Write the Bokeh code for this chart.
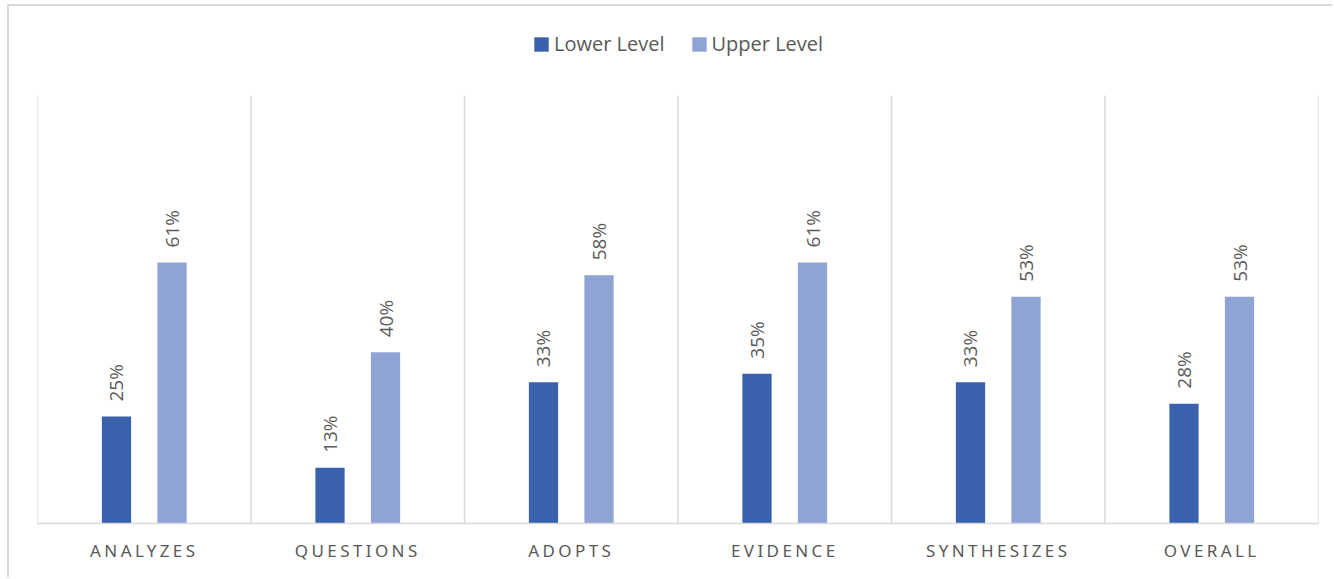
import numpy as np
from bokeh.document import Document
from bokeh.plotting import figure
from bokeh.models import (ColumnDataSource, FactorRange, Range1d, Legend,
                          LegendItem, CustomJS)
from bokeh.transform import dodge
from bokeh.core.properties import value
from bokeh.embed import file_html
from bokeh.resources import INLINE

# Share of students at each level, per skill
categories = ["ANALYZES", "QUESTIONS", "ADOPTS", "EVIDENCE", "SYNTHESIZES", "OVERALL"]
lower_level = [0.25, 0.13, 0.33, 0.35, 0.33, 0.28]
upper_level = [0.61, 0.40, 0.58, 0.61, 0.53, 0.53]
series_names = ["Lower Level", "Upper Level"]
series_colors = ["#3A62AC", "#8FA3D4"]

TEXT = "#595959"
RULE = "#D9D9D9"

# layout in pixels
W, H = 1325, 573
LEFT, RIGHT, BOTTOM = 28, 16, 56
PLOT_TOP = 89            # where 100 % sits, measured from the canvas top
frame_h = H - BOTTOM
y_max = frame_h / (frame_h - PLOT_TOP)

src = ColumnDataSource(dict(
    cat=categories,
    lower=lower_level,
    upper=upper_level,
    lower_lbl=[f"{round(v * 100)}%" for v in lower_level],
    upper_lbl=[f"{round(v * 100)}%" for v in upper_level],
))

p = figure(
    x_range=FactorRange(*categories, range_padding=0),
    y_range=Range1d(0, y_max),
    width=W, height=H,
    output_backend="svg", toolbar_location=None,
    min_border_left=LEFT, min_border_right=RIGHT,
    min_border_top=0, min_border_bottom=BOTTOM,
)
# light chart border on the top and left
p.styles = {
    "margin-left": "7px", "margin-top": "4px",
    "border-left": f"2px solid {RULE}", "border-top": f"2px solid {RULE}",
}
p.outline_line_color = None
p.background_fill_color = "white"
p.border_fill_color = "white"
p.yaxis.visible = False
p.xgrid.visible = False
p.ygrid.visible = False

# category axis
ax = p.xaxis[0]
ax.axis_line_color = RULE
ax.axis_line_width = 1.5
ax.major_tick_line_color = None
ax.minor_tick_line_color = None
ax.major_label_standoff = 9
ax.major_label_text_font = "Noto Sans"
ax.major_label_text_font_size = "17px"
ax.major_label_text_color = TEXT

# separators between categories, up to the 100 % level
bounds = list(range(len(categories) + 1))
p.segment(x0=bounds, y0=[0] * len(bounds), x1=bounds, y1=[1] * len(bounds),
          line_color=RULE, line_width=1.5)

offsets = [-0.13, 0.13]
fields = ["lower", "upper"]
renderers = []
for off, fld, col in zip(offsets, fields, series_colors):
    r = p.vbar(x=dodge("cat", off, range=p.x_range), top=fld, width=0.137,
               source=src, fill_color=col, line_color=None)
    renderers.append(r)
    p.text(x=dodge("cat", off, range=p.x_range), y=fld, text=fld + "_lbl",
           source=src, angle=np.pi / 2, text_align="left", text_baseline="middle",
           y_offset=-15, text_font=value("Open Sans"), text_font_size="19px",
           text_color=TEXT)

legend = Legend(
    items=[LegendItem(label=n, renderers=[r]) for n, r in zip(series_names, renderers)],
    orientation="horizontal", location=(495, frame_h - 51),
    border_line_color=None, background_fill_alpha=0,
    glyph_width=18, glyph_height=18, label_standoff=4, spacing=25,
    padding=0, margin=0,
    label_text_font="Open Sans", label_text_font_size="20px",
    label_text_color=TEXT,
)
p.add_layout(legend)

# spread out the letters of the category labels, keeping them centred
spacing_js = CustomJS(args=dict(labels=categories, ls=3.4), code="""
function walk(root) {
  for (const el of root.querySelectorAll('*')) {
    if (el.shadowRoot) walk(el.shadowRoot)
    if (el.tagName === 'text' && labels.includes(el.textContent)
        && !el.hasAttribute('letter-spacing')) {
      el.setAttribute('letter-spacing', ls + 'px')
      if (el.getAttribute('text-anchor') !== 'middle') {
        const x = parseFloat(el.getAttribute('x'))
        if (!isNaN(x))
          el.setAttribute('x', x - el.textContent.length * ls / 2)
      }
    }
  }
}
let n = 0
const run = () => { walk(document); if (++n < 80) setTimeout(run, 50) }
run()
""")

doc = Document()
doc.add_root(p)
doc.js_on_event("document_ready", spacing_js)

open("out.html", "w").write(file_html(p, INLINE))
